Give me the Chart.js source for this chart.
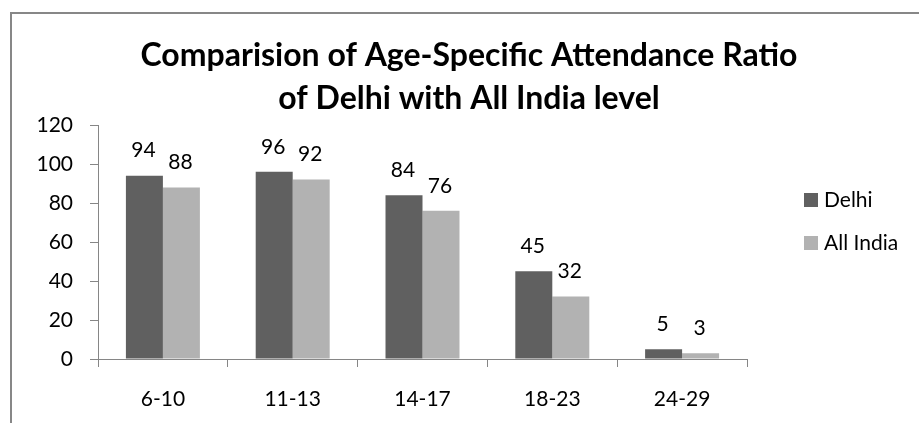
<!doctype html>
<html>
<head>
<title>Age-Specific Attendance Ratio</title>
<script src="https://cdn.jsdelivr.net/npm/chart.js@4.4.9/dist/chart.umd.min.js"></script>
<style>
body { margin: 0; background: #fff; }
#wrap { position: relative; width: 919px; height: 423px; overflow: hidden; }
#frame { position: absolute; left: 10px; top: 12px; width: 920px; height: 420px;
         border-top: 2px solid #878787; border-left: 2px solid #878787; }
#chart { position: absolute; left: 0; top: 0; }
</style>
<script>

const ageGroups = ['6-10', '11-13', '14-17', '18-23', '24-29'];
const delhi = [94, 96, 84, 45, 5];
const allIndia = [88, 92, 76, 32, 3];
const seriesNames = ['Delhi', 'All India'];
const seriesColors = ['#606060', '#b2b2b2'];
const titleLines = ['Comparision of Age-Specific Attendance Ratio', 'of Delhi with All India level'];

const FONT = 'Lato';

// numbers over each bar
const valueLabels = {
  id: 'valueLabels',
  afterDatasetsDraw(chart) {
    let ctx = chart.ctx;
    ctx.save();
    ctx.font = '21px ' + FONT;
    ctx.fillStyle = '#000';
    ctx.textAlign = 'center';
    ctx.textBaseline = 'middle';
    chart.data.datasets.forEach((ds, i) => {
      chart.getDatasetMeta(i).data.forEach((bar, j) => {
        ctx.fillText(ds.data[j], bar.x - 1, bar.y - 25);
      });
    });
    ctx.restore();
  }
};

// excel-style legend sitting right of the plot
const sideLegend = {
  id: 'sideLegend',
  afterDraw(chart) {
    let ctx = chart.ctx;
    let x = chart.chartArea.right + 57;
    let y = chart.chartArea.top + 75;
    ctx.save();
    ctx.font = '21px ' + FONT;
    ctx.textBaseline = 'middle';
    chart.data.datasets.forEach((ds, i) => {
      let cy = y + i * 43;
      ctx.fillStyle = ds.backgroundColor;
      ctx.fillRect(x, cy - 7, 14, 14);
      ctx.fillStyle = '#000';
      ctx.fillText(ds.label, x + 20, cy);
    });
    ctx.restore();
  }
};

async function go() {
  await document.fonts.load('21px ' + FONT);
  await document.fonts.load('bold 32px ' + FONT);

  let datasets = [delhi, allIndia].map((values, i) => ({
    label: seriesNames[i],
    data: values,
    backgroundColor: seriesColors[i],
    borderWidth: 0,
    barPercentage: 1,
    categoryPercentage: 0.57,
  }));

  new Chart(document.getElementById('chart'), {
    type: 'bar',
    data: { labels: ageGroups, datasets },
    options: {
      responsive: false,
      animation: false,
      layout: { padding: { left: 19, right: 0, top: 0, bottom: 0 } },
      plugins: {
        legend: { display: false },
        tooltip: { enabled: false },
        title: {
          display: true,
          text: titleLines,
          color: '#000',
          font: { family: FONT, size: 32, weight: 'bold', lineHeight: 43 / 32 },
          padding: { top: 34, bottom: 5 },
        },
      },
      scales: {
        x: {
          grid: { drawOnChartArea: false, tickLength: 8, color: '#868686' },
          border: { color: '#868686', width: 1 },
          ticks: { color: '#000', font: { family: FONT, size: 21 }, padding: 20, maxRotation: 0 },
          afterFit(s) { s.height = 64; },
        },
        y: {
          min: 0,
          max: 120,
          grid: { drawOnChartArea: false, tickLength: 8, color: '#868686' },
          border: { color: '#868686', width: 1 },
          ticks: { stepSize: 20, color: '#000', font: { family: FONT, size: 21 }, padding: 17 },
          afterFit(s) { s.width = 79; },
        },
        spacer: {
          position: 'right',
          display: true,
          grid: { display: false },
          border: { display: false },
          ticks: { display: false },
          afterFit(s) { s.width = 172; },
        },
      },
    },
    plugins: [valueLabels, sideLegend],
  });
}

window.onload = go;

</script>
</head>
<body>
<div id="wrap">
  <div id="frame"></div>
  <canvas id="chart" width="919" height="423"></canvas>
</div>
</body>
</html>
